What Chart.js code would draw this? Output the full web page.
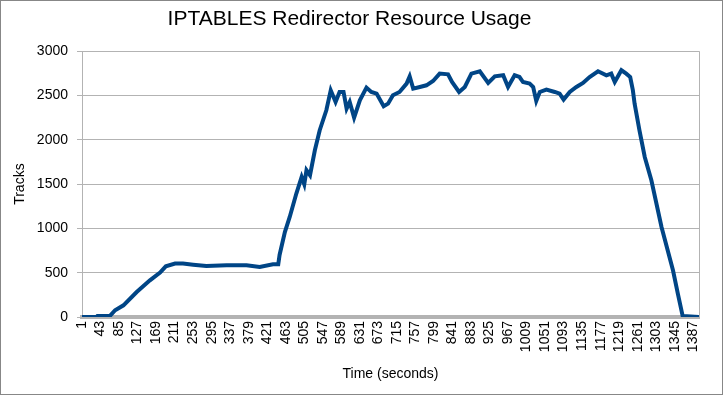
<!DOCTYPE html>
<html lang="en">
<head>
    <meta charset="UTF-8">
    <title>IPTABLES Redirector Resource Usage</title>
    <script src="https://cdn.jsdelivr.net/npm/chart.js@4.4.0/dist/chart.umd.min.js"></script>
    <style>
        html, body { margin: 0; padding: 0; background: #fff; }
        canvas { display: block; }
    </style>
</head>
<body>
    <canvas id="usageChart" width="723" height="395"></canvas>
    <script>
        // Data (seconds -> tracks)
        const seconds = [1, 34, 36, 64, 76, 95, 125, 155, 178, 191, 212, 230, 253, 283, 329, 374, 404, 434, 446,
            449, 461, 472, 487, 499, 505, 510, 518, 529, 540, 555, 565, 576, 585, 594, 601, 608, 618, 631, 646,
            657, 669, 685, 695, 706, 721, 737, 744, 752, 767, 782, 797, 812, 831, 840, 856, 869, 884, 903, 922,
            937, 956, 967, 982, 993, 1001, 1016, 1024, 1031, 1039, 1054, 1073, 1084, 1093, 1107, 1122, 1137,
            1152, 1171, 1190, 1201, 1209, 1224, 1235, 1244, 1250, 1254, 1265, 1277, 1292, 1315, 1341, 1352,
            1363, 1400];
        const tracks = [0, 0, 10, 10, 76, 132, 282, 414, 501, 572, 603, 603, 591, 576, 583, 583, 565, 595, 595,
            700, 959, 1129, 1393, 1580, 1498, 1656, 1600, 1882, 2108, 2333, 2559, 2427, 2540, 2540, 2352, 2427,
            2250, 2446, 2589, 2540, 2521, 2378, 2408, 2502, 2540, 2634, 2716, 2578, 2596, 2615, 2664, 2747, 2739,
            2652, 2540, 2596, 2747, 2773, 2641, 2716, 2728, 2596, 2728, 2709, 2652, 2634, 2596, 2438, 2540, 2567,
            2540, 2521, 2454, 2540, 2596, 2641, 2709, 2773, 2728, 2747, 2652, 2785, 2747, 2709, 2560, 2408, 2107,
            1806, 1543, 1016, 527, 264, 10, 0];
        const xTickLabels = [1, 43, 85, 127, 169, 211, 253, 295, 337, 379, 421, 463, 505, 547, 589, 631, 673,
            715, 757, 799, 841, 883, 925, 967, 1009, 1051, 1093, 1135, 1177, 1219, 1261, 1303, 1345, 1387];

        const fontFamily = "'Liberation Sans', Arial, sans-serif";
        const gridColor = '#b3b3b3';

        // right edge of plot + outer frame
        const framePlugin = {
            id: 'frame',
            beforeDatasetsDraw(chart) {
                const { ctx, chartArea } = chart;
                ctx.save();
                ctx.strokeStyle = gridColor;
                ctx.lineWidth = 1;
                ctx.beginPath();
                ctx.moveTo(Math.round(chartArea.right) + 0.5, chartArea.top);
                ctx.lineTo(Math.round(chartArea.right) + 0.5, chartArea.bottom);
                ctx.stroke();
                ctx.restore();
            },
            afterDraw(chart) {
                const ctx = chart.ctx;
                ctx.save();
                ctx.strokeStyle = '#878787';
                ctx.lineWidth = 1;
                ctx.strokeRect(0.5, 0.5, chart.width - 1, chart.height - 1);
                ctx.restore();
            }
        };

        const ctx = document.getElementById('usageChart').getContext('2d');
        new Chart(ctx, {
            type: 'line',
            data: {
                datasets: [{
                    data: seconds.map((s, i) => ({ x: s, y: tracks[i] })),
                    borderColor: '#004586',
                    borderWidth: 4,
                    pointRadius: 0,
                    tension: 0,
                    fill: false
                }]
            },
            options: {
                responsive: false,
                animation: false,
                layout: { padding: { left: 0, right: 24, top: 0, bottom: 0 } },
                plugins: {
                    legend: { display: false },
                    tooltip: { enabled: false },
                    title: {
                        display: true,
                        text: 'IPTABLES Redirector Resource Usage',
                        color: '#000',
                        font: { family: fontFamily, size: 21, weight: 'normal' },
                        padding: { top: 7, bottom: 19 }
                    }
                },
                scales: {
                    x: {
                        type: 'linear',
                        min: 1,
                        max: 1400,
                        afterBuildTicks: (scale) => {
                            scale.ticks = xTickLabels.map(v => ({ value: v }));
                        },
                        afterFit: (scale) => { scale.height = 78; },
                        grid: { display: false, drawTicks: false },
                        border: { display: true, color: gridColor, width: 4 },
                        ticks: {
                            autoSkip: false,
                            minRotation: 90,
                            maxRotation: 90,
                            padding: 4,
                            color: '#000',
                            font: { family: fontFamily, size: 14 },
                            callback: (v) => String(v)
                        },
                        title: {
                            display: true,
                            text: 'Time (seconds)',
                            color: '#000',
                            font: { family: fontFamily, size: 14 },
                            padding: { top: 0, bottom: 12 }
                        }
                    },
                    y: {
                        min: 0,
                        max: 3000,
                        afterFit: (scale) => { scale.width = 82; },
                        grid: { color: gridColor, lineWidth: 1, tickLength: 5 },
                        border: { display: true, color: gridColor, width: 1 },
                        ticks: {
                            stepSize: 500,
                            padding: 9,
                            color: '#000',
                            font: { family: fontFamily, size: 14 },
                            callback: (v) => String(v)
                        },
                        title: {
                            display: true,
                            text: 'Tracks',
                            color: '#000',
                            font: { family: fontFamily, size: 14 },
                            padding: { top: 12, bottom: 0 }
                        }
                    }
                }
            },
            plugins: [framePlugin]
        });
    </script>
</body>
</html>
